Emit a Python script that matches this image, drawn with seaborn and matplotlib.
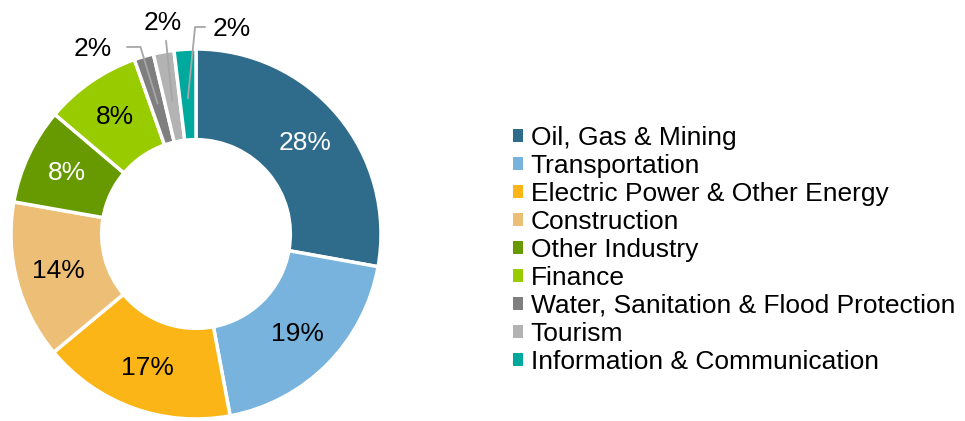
import numpy as np
import matplotlib
matplotlib.use("Agg")
import matplotlib.pyplot as plt
import seaborn as sns
from matplotlib.patches import Patch

# -------------------------------
# Data
# -------------------------------
sectors = ["Oil, Gas & Mining", "Transportation", "Electric Power & Other Energy",
           "Construction", "Other Industry", "Finance",
           "Water, Sanitation & Flood Protection", "Tourism",
           "Information & Communication"]
shares = [27.8, 19.2, 16.9, 13.8, 8.4, 8.4, 1.7, 1.8, 1.9]
colors = ["#2F6B8B", "#77B3DC", "#FBB516", "#ECBE76", "#669A00",
          "#99CC00", "#7F7F7F", "#B3B3B3", "#00A99D"]
label_colors = ["white", "black", "black", "black", "white", "black",
                "black", "black", "black"]

sns.set_theme(style="white")
plt.rcParams["font.family"] = ["Liberation Sans", "DejaVu Sans"]
plt.rcParams["text.color"] = "black"
palette = sns.color_palette(colors)

fig = plt.figure(figsize=(9.65, 4.21), dpi=100)
ax = fig.add_axes([0, 0, 392 / 965, 1])

inner = 0.51
wedges, _ = ax.pie(shares, colors=palette, startangle=90, counterclock=False,
                   radius=1.0,
                   wedgeprops=dict(width=1 - inner, edgecolor="white", linewidth=2.5))

total = sum(shares)
# outside label positions for the three small slices (layout only)
outside = {6: ((-0.557, 1.0), (-0.30, 1.011)),
           7: ((-0.178, 1.14), (-0.162, 1.045)),
           8: ((0.195, 1.108), (-0.005, 1.119))}
for i, w in enumerate(wedges):
    ang = np.deg2rad((w.theta1 + w.theta2) / 2)
    txt = f"{round(shares[i] / total * 100):.0f}%"
    if i in outside:
        (tx, ty), (bx, by) = outside[i]
        ex, ey = 0.735 * np.cos(ang), 0.735 * np.sin(ang)
        if i == 6:
            ax.plot([-0.373, bx, ex], [by, by, ey], color="#A6A6A6", lw=1.3, zorder=3)
        elif i == 8:
            ax.plot([0.049, bx, ex], [by, by, ey], color="#A6A6A6", lw=1.3, zorder=3)
        else:
            ax.plot([bx, ex], [by, ey], color="#A6A6A6", lw=1.3, zorder=3)
        ax.text(tx, ty, txt, ha="center", va="center", fontsize=19, color="black")
    else:
        ax.text(0.77 * np.cos(ang), 0.77 * np.sin(ang), txt, ha="center", va="center",
                fontsize=19, color=label_colors[i])

ax.set_xlim(-196 / 185, 196 / 185)
ax.set_ylim(-187 / 185, 234 / 185)
ax.set_aspect("auto")
ax.axis("off")

handles = [Patch(facecolor=c, edgecolor="none") for c in palette]
leg = fig.legend(handles, sectors, loc="upper left",
                 bbox_to_anchor=(513 / 965, (421 - 126) / 421),
                 frameon=False, fontsize=19, handlelength=0.37, handleheight=0.37,
                 handletextpad=0.3, labelspacing=0.15, borderpad=0, borderaxespad=0)
for t in leg.get_texts():
    t.set_color("black")

fig.savefig("out.png", dpi=100, facecolor="white")
